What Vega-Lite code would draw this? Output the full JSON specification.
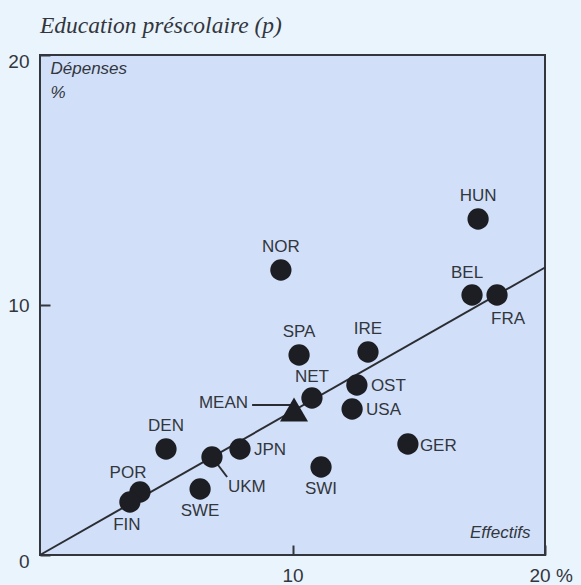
{
  "$schema": "https://vega.github.io/schema/vega-lite/v6.json",
  "width": 505,
  "height": 500,
  "autosize": {"type": "none"},
  "padding": {"left": 40, "top": 55, "right": 36, "bottom": 30},
  "background": "#e9f4fc",
  "config": {
    "view": {"fill": "#d1e0f8", "stroke": "#33363d", "strokeWidth": 2},
    "font": "Liberation Sans"
  },
  "title": {
    "text": "Education préscolaire (p)",
    "anchor": "start",
    "frame": "group",
    "font": "Liberation Serif",
    "fontStyle": "italic",
    "fontWeight": "normal",
    "fontSize": 23.5,
    "color": "#33363d",
    "baseline": "alphabetic",
    "offset": -4
  },
  "datasets": {
    "pts": [
      {"name": "HUN", "x": 17.35, "y": 13.44},
      {"name": "NOR", "x": 9.54, "y": 11.4},
      {"name": "BEL", "x": 17.11, "y": 10.4},
      {"name": "FRA", "x": 18.1, "y": 10.4},
      {"name": "SPA", "x": 10.26, "y": 8.0},
      {"name": "IRE", "x": 12.99, "y": 8.12},
      {"name": "NET", "x": 10.77, "y": 6.28},
      {"name": "OST", "x": 12.55, "y": 6.8},
      {"name": "USA", "x": 12.36, "y": 5.84},
      {"name": "MEAN", "x": 10.06, "y": 5.82},
      {"name": "GER", "x": 14.57, "y": 4.44},
      {"name": "SWI", "x": 11.13, "y": 3.52},
      {"name": "JPN", "x": 7.92, "y": 4.24},
      {"name": "UKM", "x": 6.81, "y": 3.92},
      {"name": "DEN", "x": 4.99, "y": 4.24},
      {"name": "SWE", "x": 6.34, "y": 2.64},
      {"name": "POR", "x": 3.96, "y": 2.52},
      {"name": "FIN", "x": 3.56, "y": 2.12}
    ],
    "fit": [
      {"x": 0, "y": 0},
      {"x": 20, "y": 11.5}
    ],
    "leaders": [
      {"x": 8.4, "y": 6.0, "x2": 10.0, "y2": 6.0},
      {"x": 6.81, "y": 3.92, "x2": 7.41, "y2": 3.12}
    ]
  },
  "encoding": {
    "x": {
      "field": "x",
      "type": "quantitative",
      "scale": {"domain": [0, 20], "nice": false, "zero": false},
      "axis": {
        "values": [10, 20],
        "zindex": 1,
        "domain": false,
        "grid": false,
        "ticks": true,
        "tickSize": -10,
        "tickWidth": 2,
        "tickColor": "#33363d",
        "tickOpacity": 1,
        "labelPadding": 21,
        "labelFontSize": 19,
        "labelColor": "#33363d",
        "labelFont": "Liberation Sans",
        "labelExpr": "datum.value == 20 ? '20 %' : datum.label",
        "labelAlign": {"condition": {"test": "datum.value == 20", "value": "left"}, "value": "center"},
        "labelOffset": {"condition": {"test": "datum.value == 20", "value": -16}, "value": 0},
        "title": "Effectifs",
        "titleFont": "Liberation Sans",
        "titleFontStyle": "italic",
        "titleFontWeight": "normal",
        "titleFontSize": 17,
        "titleColor": "#33363d",
        "titleAlign": "right",
        "titleBaseline": "middle",
        "titleX": 490,
        "titleY": -23
      }
    },
    "y": {
      "field": "y",
      "type": "quantitative",
      "scale": {"domain": [0, 20], "nice": false, "zero": false},
      "axis": {
        "values": [0, 10, 20],
        "zindex": 1,
        "domain": false,
        "grid": false,
        "ticks": true,
        "tickSize": -10,
        "tickWidth": 2,
        "tickColor": "#33363d",
        "tickOpacity": 1,
        "labelPadding": 21,
        "labelFontSize": 19,
        "labelColor": "#33363d",
        "labelFont": "Liberation Sans",
        "labelOffset": {"condition": {"test": "datum.value != 10", "value": 6}, "value": 0},
        "title": ["Dépenses", "%"],
        "titleFont": "Liberation Sans",
        "titleFontStyle": "italic",
        "titleFontWeight": "normal",
        "titleFontSize": 17,
        "titleColor": "#33363d",
        "titleAngle": 0,
        "titleAlign": "left",
        "titleBaseline": "top",
        "titleLineHeight": 24,
        "titleX": 10,
        "titleY": 5
      }
    }
  },
  "layer": [
    {
      "data": {"name": "fit"},
      "mark": {"type": "line", "color": "#2b2d33", "strokeWidth": 2},
      "encoding": {}
    },
    {
      "data": {"name": "leaders"},
      "mark": {"type": "rule", "color": "#2b2d33", "strokeWidth": 2},
      "encoding": {
        "x2": {"field": "x2"},
        "y2": {"field": "y2"}
      }
    },
    {
      "data": {"name": "pts"},
      "transform": [{"filter": "datum.name != 'MEAN'"}],
      "mark": {"type": "circle", "size": 452, "opacity": 1, "color": "#1d1e23"},
      "encoding": {}
    },
    {
      "data": {"name": "pts"},
      "transform": [{"filter": "datum.name == 'MEAN'"}],
      "mark": {"type": "point", "shape": "triangle-up", "filled": true, "size": 784, "opacity": 1, "color": "#1d1e23"},
      "encoding": {}
    },
    {
      "data": {"name": "pts"},
      "transform": [{"filter": {"field": "name", "oneOf": ["HUN", "NOR", "SPA", "IRE", "DEN"]}}],
      "mark": {"type": "text", "dy": -23, "fontSize": 17, "color": "#33363d"},
      "encoding": {"text": {"field": "name"}}
    },
    {
      "data": {"name": "pts"},
      "transform": [{"filter": {"field": "name", "oneOf": ["NET"]}}],
      "mark": {"type": "text", "dy": -21, "fontSize": 17, "color": "#33363d"},
      "encoding": {"text": {"field": "name"}}
    },
    {
      "data": {"name": "pts"},
      "transform": [{"filter": {"field": "name", "oneOf": ["BEL"]}}],
      "mark": {"type": "text", "dx": -5, "dy": -22, "fontSize": 17, "color": "#33363d"},
      "encoding": {"text": {"field": "name"}}
    },
    {
      "data": {"name": "pts"},
      "transform": [{"filter": {"field": "name", "oneOf": ["POR"]}}],
      "mark": {"type": "text", "dx": -12, "dy": -19, "fontSize": 17, "color": "#33363d"},
      "encoding": {"text": {"field": "name"}}
    },
    {
      "data": {"name": "pts"},
      "transform": [{"filter": {"field": "name", "oneOf": ["SWI", "SWE"]}}],
      "mark": {"type": "text", "dy": 22, "fontSize": 17, "color": "#33363d"},
      "encoding": {"text": {"field": "name"}}
    },
    {
      "data": {"name": "pts"},
      "transform": [{"filter": {"field": "name", "oneOf": ["FIN"]}}],
      "mark": {"type": "text", "dx": -3, "dy": 23, "fontSize": 17, "color": "#33363d"},
      "encoding": {"text": {"field": "name"}}
    },
    {
      "data": {"name": "pts"},
      "transform": [{"filter": {"field": "name", "oneOf": ["FRA"]}}],
      "mark": {"type": "text", "dx": 11, "dy": 24, "fontSize": 17, "color": "#33363d"},
      "encoding": {"text": {"field": "name"}}
    },
    {
      "data": {"name": "pts"},
      "transform": [{"filter": {"field": "name", "oneOf": ["OST", "USA", "JPN"]}}],
      "mark": {"type": "text", "align": "left", "dx": 14, "dy": 1, "fontSize": 17, "color": "#33363d"},
      "encoding": {"text": {"field": "name"}}
    },
    {
      "data": {"name": "pts"},
      "transform": [{"filter": {"field": "name", "oneOf": ["GER"]}}],
      "mark": {"type": "text", "align": "left", "dx": 12, "dy": 2, "fontSize": 17, "color": "#33363d"},
      "encoding": {"text": {"field": "name"}}
    },
    {
      "data": {"name": "pts"},
      "transform": [{"filter": {"field": "name", "oneOf": ["UKM"]}}],
      "mark": {"type": "text", "align": "left", "dx": 16, "dy": 30, "fontSize": 17, "color": "#33363d"},
      "encoding": {"text": {"field": "name"}}
    },
    {
      "data": {"name": "pts"},
      "transform": [{"filter": {"field": "name", "oneOf": ["MEAN"]}}],
      "mark": {"type": "text", "align": "right", "dx": -46, "dy": -7, "fontSize": 17, "color": "#33363d"},
      "encoding": {"text": {"field": "name"}}
    }
  ]
}
